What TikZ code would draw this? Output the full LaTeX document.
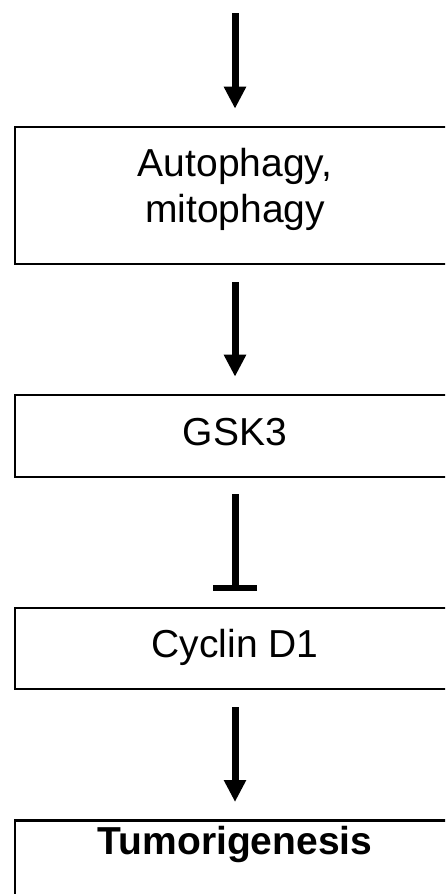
\documentclass[tikz,border=0pt]{standalone}
\usepackage{fontspec}
\setmainfont{Liberation Sans}
\usetikzlibrary{arrows.meta,positioning}

\begin{document}
\begin{tikzpicture}[x = 1pt, y = -1pt,
    box/.style = {draw, line width = 2.6pt, minimum width = 440pt, align = center, inner sep = 0pt, text height = 28.5pt, text depth = 10.5pt, font = \fontsize{39}{46}\selectfont},
    act/.style = {-{Triangle[width = 21pt, length = 22pt]}, line width = 7pt, shorten < = 17pt, shorten > = 17pt},
    inh/.style = {-{Bar[width = 44pt, line width = 6pt]}, line width = 7pt, shorten < = 16pt, shorten > = 16pt}]
    \clip (0,0) rectangle (445,894);
    \coordinate (start) at (235,13);
    \node[box, minimum height = 137pt, text height = {}, text depth = 19.4pt] (auto) at (235,195.5) {Autophagy,\\mitophagy};
    \node[box, minimum height = 82pt] (gsk) at (235,436) {GSK3};
    \node[box, minimum height = 81pt] (cyc) at (235,648.5) {Cyclin D1};
    \node[box, anchor = north, inner ysep = 6pt, text depth = 70pt, font = \fontsize{39}{46}\selectfont\bfseries] (tumor) at (235,819) {Tumorigenesis};
    \draw[act, shorten < = 0pt] (start) -- (auto);
    \draw[act] (auto) -- (gsk);
    \draw[inh] (gsk) -- (cyc);
    \draw[act] (cyc) -- (tumor);
\end{tikzpicture}
\end{document}
